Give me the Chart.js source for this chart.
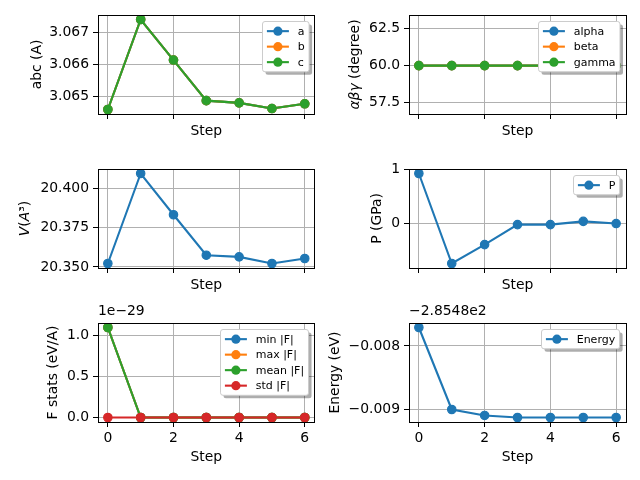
<!DOCTYPE html>
<html>
<head>
<meta charset="utf-8">
<script src="https://cdn.jsdelivr.net/npm/chart.js@4.4.1/dist/chart.umd.min.js"></script>
<style>
html, body { margin: 0; padding: 0; background: #fff; }
#fig { position: relative; width: 640px; height: 480px; overflow: hidden; }
#fig canvas { position: absolute; }
</style>
</head>
<body>
<div id="fig">
  <canvas id="cAbc"></canvas>
  <canvas id="cAng"></canvas>
  <canvas id="cVol"></canvas>
  <canvas id="cPres"></canvas>
  <canvas id="cForce"></canvas>
  <canvas id="cEnergy"></canvas>
</div>
<script>
// relaxation steps
var steps = [0, 1, 2, 3, 4, 5, 6];
var stepTicks = [0, 2, 4, 6];

// lattice lengths (A)
var abcA = [3.06458, 3.06742, 3.06614, 3.06486, 3.06479, 3.06461, 3.06476];
var abcB = [3.06458, 3.06742, 3.06614, 3.06486, 3.06479, 3.06461, 3.06476];
var abcC = [3.06458, 3.06742, 3.06614, 3.06486, 3.06479, 3.06461, 3.06476];
var abcTicks = [3.065, 3.066, 3.067];

// lattice angles (degree)
var angAlpha = [60, 60, 60, 60, 60, 60, 60];
var angBeta = [60, 60, 60, 60, 60, 60, 60];
var angGamma = [60, 60, 60, 60, 60, 60, 60];
var angTicks = [57.5, 60.0, 62.5];

// cell volume (A^3)
var volume = [20.3522, 20.4096, 20.3833, 20.3575, 20.3564, 20.3522, 20.3554];
var volTicks = [20.350, 20.375, 20.400];

// pressure (GPa)
var pressure = [0.926, -0.74, -0.39, -0.02, -0.02, 0.04, 0.0];
var presTicks = [0, 1];

// force stats, in units of 1e-29 eV/A
var forceScale = '1e\u221229';
var fMin = [1.098, 0, 0, 0, 0, 0, 0];
var fMax = [1.098, 0, 0, 0, 0, 0, 0];
var fMean = [1.098, 0, 0, 0, 0, 0, 0];
var fStd = [0, 0, 0, 0, 0, 0, 0];
var forceTicks = [0.0, 0.5, 1.0];

// energy minus offset (eV)
var energyOffset = '\u22122.8548e2';
var energy = [-0.00771, -0.00900, -0.009094, -0.009126, -0.009126, -0.009126, -0.009126];
var energyTicks = [-0.009, -0.008];

var C1 = '#1f77b4', C2 = '#ff7f0e', C3 = '#2ca02c', C4 = '#d62728';
var FONT = '"DejaVu Sans", Verdana, sans-serif';
var FS = 13.9;

function fmt(d) {
    return function (v) { return Number(v).toFixed(d).replace('-', '\u2212'); };
}

function drawLegend(ctx, area, sets) {
    var fs = 11, pad = 4.4, handle = 22, gap = 8.8, rowH = 10.5, sp = 5;
    ctx.font = fs + 'px ' + FONT;
    var tw = 0;
    sets.forEach(function (s) { tw = Math.max(tw, ctx.measureText(s.label).width); });
    var w = pad + handle + gap + tw + pad;
    var h = 2 * pad + sets.length * rowH + (sets.length - 1) * sp;
    var x = Math.round(area.right - 6.5 - w) + 0.5;
    var y = Math.round(area.top + 5.5) + 0.5;
    ctx.fillStyle = 'rgba(0,0,0,0.32)';
    ctx.beginPath(); ctx.roundRect(x + 3, y + 3, w, h, 2.5); ctx.fill();
    ctx.fillStyle = '#fff';
    ctx.strokeStyle = '#cccccc';
    ctx.lineWidth = 1;
    ctx.beginPath(); ctx.roundRect(x, y, w, h, 2.5); ctx.fill(); ctx.stroke();
    sets.forEach(function (s, i) {
        var cy = y + pad + rowH / 2 + i * (rowH + sp);
        ctx.strokeStyle = s.borderColor;
        ctx.lineWidth = 2.1;
        ctx.beginPath(); ctx.moveTo(x + pad, cy); ctx.lineTo(x + pad + handle, cy); ctx.stroke();
        ctx.fillStyle = s.borderColor;
        ctx.beginPath(); ctx.arc(x + pad + handle / 2, cy, 4.6, 0, Math.PI * 2); ctx.fill();
        ctx.fillStyle = '#000';
        ctx.textAlign = 'left';
        ctx.textBaseline = 'middle';
        ctx.fillText(s.label, x + pad + handle + gap, cy + 0.5);
    });
}

var mplPlugin = {
    id: 'mpl',
    afterDraw: function (chart, args, o) {
        var ctx = chart.ctx, a = chart.chartArea;
        ctx.save();
        // spines
        ctx.strokeStyle = '#000';
        ctx.lineWidth = 1;
        var l = Math.round(a.left - 0.5) + 0.5, r = Math.round(a.right - 0.5) + 0.5;
        var t = Math.round(a.top - 0.5) + 0.5, b = Math.round(a.bottom - 0.5) + 0.5;
        ctx.strokeRect(l, t, r - l, b - t);

        if (o.showLegend) drawLegend(ctx, a, chart.data.datasets);

        // x label
        ctx.fillStyle = '#000';
        ctx.font = FS + 'px ' + FONT;
        ctx.textAlign = 'center';
        ctx.textBaseline = 'alphabetic';
        ctx.fillText(o.xLabel, (a.left + a.right) / 2, a.bottom + o.xLabelGap);

        // y label, drawn in pieces so math parts can be italic
        ctx.save();
        ctx.translate(a.left - o.yLabelGap, (a.top + a.bottom) / 2);
        ctx.rotate(-Math.PI / 2);
        var total = 0;
        o.yLabel.forEach(function (seg) {
            ctx.font = (seg.italic ? 'italic ' : '') + FS + 'px ' + FONT;
            total += ctx.measureText(seg.text).width;
        });
        var px = -total / 2;
        ctx.textAlign = 'left';
        ctx.textBaseline = 'middle';
        o.yLabel.forEach(function (seg) {
            ctx.font = (seg.italic ? 'italic ' : '') + FS + 'px ' + FONT;
            ctx.fillText(seg.text, px, 0);
            px += ctx.measureText(seg.text).width;
        });
        ctx.restore();

        // offset text above the y axis
        if (o.offsetText) {
            ctx.font = FS + 'px ' + FONT;
            ctx.textAlign = 'left';
            ctx.textBaseline = 'alphabetic';
            ctx.fillText(o.offsetText, a.left, a.top - 8);
        }
        ctx.restore();
    }
};

function makePanel(p) {
    var cv = document.getElementById(p.id);
    cv.width = p.cell.w;
    cv.height = p.cell.h;
    cv.style.left = p.cell.l + 'px';
    cv.style.top = p.cell.t + 'px';
    var yW = p.plot.l - p.cell.l;
    var xH = p.cell.t + p.cell.h - p.plot.b;
    var grid = { color: '#b0b0b0', lineWidth: 1, tickColor: '#000', tickLength: 5, tickWidth: 1, drawTicks: true };
    var tickFont = { family: FONT, size: FS };

    new Chart(cv, {
        type: 'line',
        data: {
            datasets: p.series.map(function (s, i) {
                return {
                    label: s.label,
                    data: steps.map(function (x, k) { return { x: x, y: s.values[k] }; }),
                    borderColor: s.color,
                    backgroundColor: s.color,
                    pointBackgroundColor: s.color,
                    pointBorderColor: s.color,
                    borderWidth: 2.1,
                    pointRadius: 4.2,
                    pointBorderWidth: 1.2,
                    pointHoverRadius: 4.2,
                    tension: 0,
                    fill: false,
                    order: p.series.length - i
                };
            })
        },
        options: {
            responsive: false,
            animation: false,
            events: [],
            layout: { padding: { left: 0, bottom: 0, top: p.plot.t - p.cell.t, right: p.cell.l + p.cell.w - p.plot.r } },
            plugins: {
                legend: { display: false },
                tooltip: { enabled: false },
                mpl: { xLabel: 'Step', xLabelGap: p.xLabelGap, yLabel: p.yLabel, yLabelGap: p.yLabelGap,
                       offsetText: p.offsetText, showLegend: p.legend !== false }
            },
            scales: {
                x: {
                    type: 'linear', min: -0.3, max: 6.3,
                    afterBuildTicks: function (s) { s.ticks = stepTicks.map(function (v) { return { value: v }; }); },
                    afterFit: function (s) { s.height = xH; s.paddingLeft = 0; s.paddingRight = 0; },
                    grid: grid,
                    border: { display: false },
                    ticks: { display: p.showX, font: tickFont, color: '#000', padding: 3, autoSkip: false, maxRotation: 0,
                        callback: function (v) { return String(v); } }
                },
                y: {
                    type: 'linear', min: p.yMin, max: p.yMax,
                    afterBuildTicks: function (s) { s.ticks = p.yTicks.map(function (v) { return { value: v }; }); },
                    afterFit: function (s) { s.width = yW; s.paddingTop = 0; s.paddingBottom = 0; },
                    grid: grid,
                    border: { display: false },
                    ticks: { font: tickFont, color: '#000', padding: 4, autoSkip: false, callback: p.yFmt }
                }
            }
        },
        plugins: [mplPlugin]
    });
}

var L = { l: 0, w: 320, pl: 98, pr: 315 };
var R = { l: 320, w: 320, pl: 409, pr: 626 };
var rows = [
    { t: 0, h: 150, pt: 15, pb: 114, gap: 21 },
    { t: 150, h: 150, pt: 169, pb: 268, gap: 20.5 },
    { t: 300, h: 180, pt: 323, pb: 422, gap: 39.3 }
];
function cell(c, r) { return { l: c.l, t: r.t, w: c.w, h: r.h }; }
function plot(c, r) { return { l: c.pl, r: c.pr, t: r.pt, b: r.pb }; }

makePanel({
    id: 'cAbc', cell: cell(L, rows[0]), plot: plot(L, rows[0]), xLabelGap: rows[0].gap, showX: false,
    yMin: 3.064438, yMax: 3.067562, yTicks: abcTicks, yFmt: fmt(3),
    yLabel: [{ text: 'abc (A)' }], yLabelGap: 61,
    series: [{ label: 'a', values: abcA, color: C1 }, { label: 'b', values: abcB, color: C2 }, { label: 'c', values: abcC, color: C3 }]
});
makePanel({
    id: 'cAng', cell: cell(R, rows[0]), plot: plot(R, rows[0]), xLabelGap: rows[0].gap, showX: false,
    yMin: 56.75, yMax: 63.4, yTicks: angTicks, yFmt: fmt(1),
    yLabel: [{ text: '\u03b1\u03b2\u03b3', italic: true }, { text: ' (degree)' }], yLabelGap: 54,
    series: [{ label: 'alpha', values: angAlpha, color: C1 }, { label: 'beta', values: angBeta, color: C2 }, { label: 'gamma', values: angGamma, color: C3 }]
});
makePanel({
    id: 'cVol', cell: cell(L, rows[1]), plot: plot(L, rows[1]), xLabelGap: rows[1].gap, showX: false, legend: false,
    yMin: 20.34933, yMax: 20.41247, yTicks: volTicks, yFmt: fmt(3),
    yLabel: [{ text: 'V', italic: true }, { text: '(' }, { text: 'A', italic: true }, { text: '\u00b3' }, { text: ')' }], yLabelGap: 73,
    series: [{ label: 'V', values: volume, color: C1 }]
});
makePanel({
    id: 'cPres', cell: cell(R, rows[1]), plot: plot(R, rows[1]), xLabelGap: rows[1].gap, showX: false,
    yMin: -0.8233, yMax: 1.0093, yTicks: presTicks, yFmt: fmt(0),
    yLabel: [{ text: 'P (GPa)' }], yLabelGap: 31.5,
    series: [{ label: 'P', values: pressure, color: C1 }]
});
makePanel({
    id: 'cForce', cell: cell(L, rows[2]), plot: plot(L, rows[2]), xLabelGap: rows[2].gap, showX: true,
    yMin: -0.0549, yMax: 1.1529, yTicks: forceTicks, yFmt: fmt(1), offsetText: forceScale,
    yLabel: [{ text: 'F stats (eV/A)' }], yLabelGap: 44.7,
    series: [{ label: 'min |F|', values: fMin, color: C1 }, { label: 'max |F|', values: fMax, color: C2 },
             { label: 'mean |F|', values: fMean, color: C3 }, { label: 'std |F|', values: fStd, color: C4 }]
});
makePanel({
    id: 'cEnergy', cell: cell(R, rows[2]), plot: plot(R, rows[2]), xLabelGap: rows[2].gap, showX: true,
    yMin: -0.0091968, yMax: -0.0076392, yTicks: energyTicks, yFmt: fmt(3), offsetText: energyOffset,
    yLabel: [{ text: 'Energy (eV)' }], yLabelGap: 74,
    series: [{ label: 'Energy', values: energy, color: C1 }]
});
</script>
</body>
</html>
